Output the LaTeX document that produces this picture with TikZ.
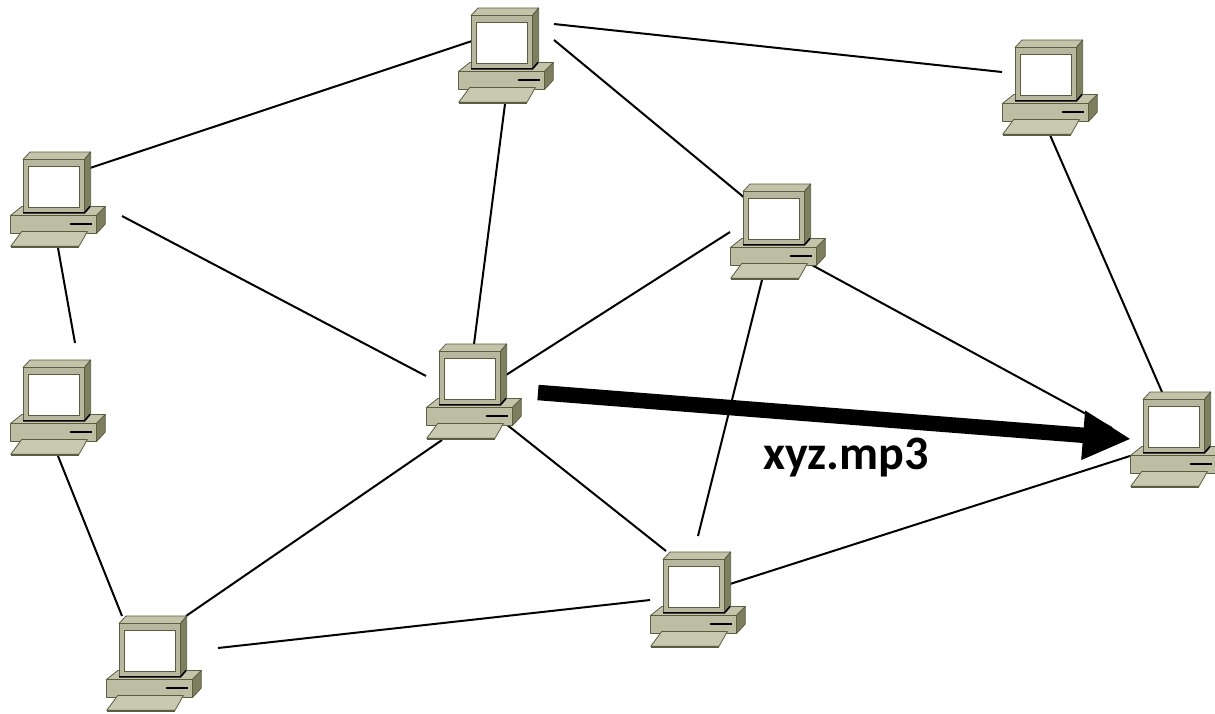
\documentclass[tikz,border=0pt]{standalone}
\usepackage{fontspec}
\setmainfont{Carlito}
\usetikzlibrary{calc,arrows.meta}
\definecolor{pcfront}{HTML}{B8B89E}
\definecolor{pctop}{HTML}{C4C4AA}
\definecolor{pcside}{HTML}{7F7F60}
\definecolor{pcbase}{HTML}{BDBDA3}
\definecolor{pckey}{HTML}{C9C9B1}
\definecolor{pcedge}{HTML}{5C5C42}
\tikzset{
  x=1pt,y=-1pt,
  pcface/.style={draw=pcedge,line width=0.8pt,line join=round},
  compbox/.style={inner sep=0pt,minimum width=96pt,minimum height=96pt},
  link/.style={draw=black,line width=2pt},
  bigarrow/.style={draw=black,line width=15.5pt,-{Triangle[length=48pt,width=46pt]}},
  computer/.pic={
    % base
    \path[pcface,fill=pctop] (-36.3,6.5)--(47.3,6.5)--(38.5,15.5)--(-47.5,15.5)--cycle;
    \path[pcface,fill=pcbase] (-47.5,15.5) rectangle (38.5,33.5);
    \path[pcface,fill=pcside] (38.5,15.5)--(47.3,6.5)--(47.3,24)--(38.5,33.5)--cycle;
    \draw[black,line width=1.4pt] (12,24)--(34,24);
    % keyboard
    \path[pcface,fill=pckey] (-36.3,31.5)--(29.3,31.5)--(21,46.3)--(-47.3,46.3)--cycle;
    \draw[pcedge,line width=1.6pt] (-47.3,46.8)--(21,46.8);
    % monitor
    \path[pcface,fill=pctop] (-35,-40.5)--(-28,-48)--(32.7,-48)--(26.5,-40.5)--cycle;
    \path[pcface,fill=pcside] (26.5,-40.5)--(32.7,-48)--(32.7,5)--(26.5,12.5)--cycle;
    \path[pcface,fill=pcfront] (-35,-40.5) rectangle (26.5,12.5);
    \draw[black,line width=1.6pt] (-35,12.9)--(26.5,12.9)--(32,6.5);
    \path[draw=pcedge,line width=0.7pt,fill=white] (-29.3,-33.7) rectangle (21,7);
  }
}
\begin{document}
\begin{tikzpicture}
\useasboundingbox (0,0) rectangle (1215,713);
\node[compbox] (top) at (506,56) {};
\node[compbox] (rtop) at (1050,88) {};
\node[compbox] (left1) at (58,200) {};
\node[compbox] (mr) at (778,232) {};
\node[compbox] (left2) at (58,408) {};
\node[compbox] (c) at (474,392) {};
\node[compbox] (r) at (1178,440) {};
\node[compbox] (lm) at (698,600) {};
\node[compbox] (bl) at (154,664) {};
\draw[link] ($(top)+(-34,-15)$) -- ($(left1)+(32,-32)$);
\draw[link] ($(top)+(48,-32)$) -- ($(rtop)+(-48,-16)$);
\draw[link] ($(top)+(48,-16)$) -- ($(mr)+(-32,-33)$);
\draw[link] ($(top)+(-1,48)$) -- ($(c)+(0,-48)$);
\draw[link] ($(left1)+(64,16)$) -- ($(c)+(-48,-16)$);
\draw[link] ($(left1)+(0,48)$) -- ($(left2)+(17,-65)$);
\draw[link] ($(left2)+(0,48)$) -- ($(bl)+(-32,-48)$);
\draw[link] ($(c)+(32,-17)$) -- ($(mr)+(-48,0)$);
\draw[link] ($(mr)+(32,32)$) -- ($(r)+(-66,-12)$);
\draw[link] ($(rtop)+(0,47)$) -- ($(r)+(-16,-48)$);
\draw[link] ($(mr)+(-16,48)$) -- ($(lm)+(0,-64)$);
\draw[link] ($(c)+(32,32)$) -- ($(lm)+(-32,-49)$);
\draw[link] ($(c)+(-32,48)$) -- ($(bl)+(32,-48)$);
\draw[link] ($(bl)+(64,-16)$) -- ($(lm)+(-48,0)$);
\draw[link] ($(lm)+(32,-16)$) -- ($(r)+(-48,16)$);
\foreach \n in {top,rtop,left1,mr,left2,c,r,lm,bl} \pic at (\n) {computer};
\coordinate (arrowstart) at (538,392.5);
\coordinate (arrowtip) at (1131,439);
\draw[bigarrow] (arrowstart) -- (arrowtip);
\node[font=\bfseries\fontsize{48}{48}\selectfont,inner sep=0pt,anchor=base west] (label) at (763,469) {xyz.mp3};
\end{tikzpicture}
\end{document}
